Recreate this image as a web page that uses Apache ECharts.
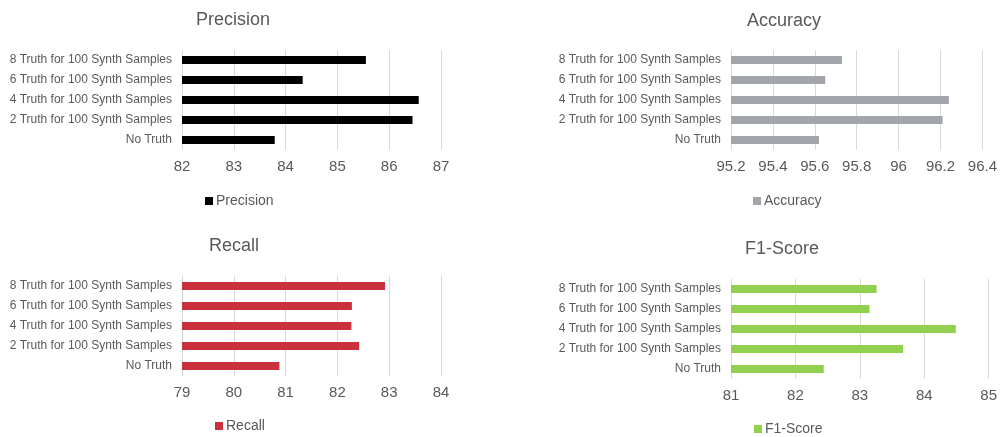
<!DOCTYPE html>
<html>
<head>
<meta charset="utf-8">
<script src="https://cdn.jsdelivr.net/npm/echarts@6/dist/echarts.min.js"></script>
<style>
  html, body {margin: 0; padding: 0; background: #fff;}
  #chart {width: 1000px; height: 437px;}
</style>
</head>
<body>
<div id="chart"></div>
<script>
// categories from bottom to top
const categories = [
  'No Truth',
  '2 Truth for 100 Synth Samples',
  '4 Truth for 100 Synth Samples',
  '6 Truth for 100 Synth Samples',
  '8 Truth for 100 Synth Samples',
];
const precision = [83.79, 86.45, 86.57, 84.33, 85.55];
const accuracy = [95.62, 96.21, 96.24, 95.65, 95.73];
const recall = [80.88, 82.42, 82.27, 82.28, 82.92];
const f1Score = [82.44, 83.67, 84.49, 83.15, 83.26];

const panels = [
  {name: 'Precision', data: precision, color: '#000000', min: 82, max: 87, interval: 1,
   grid: {left: 182, top: 50, width: 259, height: 100}, title: [228, 6], legend: [200, 189]},
  {name: 'Accuracy', data: accuracy, color: '#a2a6aa', min: 95.2, max: 96.4, interval: 0.2,
   grid: {left: 731, top: 50, width: 252, height: 100}, title: [779, 7], legend: [748, 189]},
  {name: 'Recall', data: recall, color: '#c9323d', min: 79, max: 84, interval: 1,
   grid: {left: 182, top: 276, width: 259, height: 100}, title: [229, 232], legend: [210, 414]},
  {name: 'F1-Score', data: f1Score, color: '#92d050', min: 81, max: 85, interval: 1,
   grid: {left: 731, top: 279, width: 258, height: 100}, title: [777, 235], legend: [749, 417]},
];

const textColor = '#595959';
const font = 'Liberation Sans, Arial, Helvetica, sans-serif';

const chart = echarts.init(document.getElementById('chart'));

const option = {
  animation: false,
  backgroundColor: '#ffffff',
  textStyle: {fontFamily: font},
  title: panels.map((p) => ({
    text: p.name,
    left: p.title[0],
    top: p.title[1],
    textAlign: 'center',
    textStyle: {fontSize: 18, fontWeight: 'normal', color: textColor, fontFamily: font},
  })),
  legend: panels.map((p) => ({
    data: [p.name],
    left: p.legend[0],
    top: p.legend[1],
    itemWidth: 8,
    itemHeight: 8,
    itemGap: 4,
    icon: 'rect',
    textStyle: {fontSize: 14, color: textColor, fontFamily: font, padding: [0, 0, 0, -2]},
  })),
  grid: panels.map((p) => ({...p.grid, containLabel: false})),
  xAxis: panels.map((p, i) => ({
    type: 'value',
    gridIndex: i,
    min: p.min,
    max: p.max,
    interval: p.interval,
    axisLine: {show: false},
    axisTick: {show: false},
    axisLabel: {
      fontSize: 15,
      color: textColor,
      margin: 9,
      fontFamily: font,
      formatter: (v) => String(+v.toFixed(1)),
    },
    splitLine: {show: true, lineStyle: {color: '#d9d9d9', width: 1}},
  })),
  yAxis: panels.map((p, i) => ({
    type: 'category',
    gridIndex: i,
    data: categories,
    axisLine: {show: false},
    axisTick: {show: false},
    axisLabel: {fontSize: 12, color: textColor, margin: 10, fontFamily: font},
    splitLine: {show: false},
  })),
  series: panels.map((p, i) => ({
    name: p.name,
    type: 'bar',
    xAxisIndex: i,
    yAxisIndex: i,
    barWidth: 8,
    itemStyle: {color: p.color},
    data: p.data,
  })),
};

chart.setOption(option);
</script>
</body>
</html>
